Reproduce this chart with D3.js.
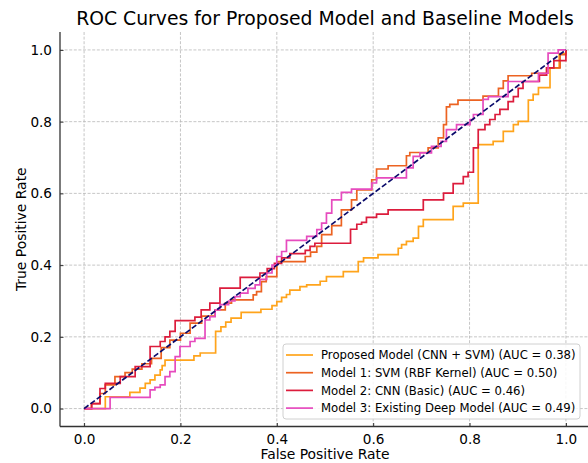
<!DOCTYPE html>
<html><head><meta charset="utf-8">
<script src="https://cdn.jsdelivr.net/npm/d3@7"></script>
<style>
body{margin:0;background:#fff}
svg{display:block}
text{font-family:"DejaVu Sans",sans-serif;fill:#000}
</style>
</head><body>
<svg id="chart" width="588" height="463"></svg>
<script>
// ---- data ----
const chartTitle = "ROC Curves for Proposed Model and Baseline Models";
const xLabel = "False Positive Rate";
const yLabel = "True Positive Rate";
const tickValues = [0, 0.2, 0.4, 0.6, 0.8, 1.0];
const seriesNames = [
  "Proposed Model (CNN + SVM)",
  "Model 1: SVM (RBF Kernel)",
  "Model 2: CNN (Basic)",
  "Model 3: Existing Deep Model"
];
const aucValues = [0.38, 0.50, 0.46, 0.49];

const proposedFpr = [0,0.044,0.095,0.116,0.127,0.137,0.147,0.158,0.162,0.168,0.228,0.241,0.273,0.284,0.294,0.305,0.326,0.367,0.39,0.4,0.41,0.42,0.427,0.448,0.462,0.49,0.503,0.538,0.569,0.58,0.61,0.652,0.659,0.669,0.683,0.694,0.704,0.766,0.787,0.818,0.849,0.87,0.891,0.901,0.922,0.932,0.943,0.967,0.986,1.0];
const proposedTpr = [0,0.033,0.045,0.057,0.07,0.08,0.093,0.108,0.12,0.135,0.147,0.155,0.215,0.228,0.241,0.252,0.268,0.277,0.287,0.298,0.31,0.318,0.33,0.34,0.345,0.355,0.368,0.382,0.41,0.42,0.429,0.447,0.457,0.466,0.475,0.508,0.527,0.564,0.573,0.736,0.745,0.773,0.792,0.801,0.86,0.876,0.895,0.95,0.99,1.0];

const svmFpr = [0,0.015,0.033,0.044,0.064,0.085,0.1,0.12,0.14,0.16,0.178,0.2,0.22,0.244,0.272,0.293,0.306,0.351,0.358,0.368,0.378,0.4,0.459,0.47,0.483,0.493,0.514,0.534,0.555,0.566,0.597,0.607,0.631,0.669,0.676,0.714,0.735,0.746,0.752,0.759,0.776,0.828,0.86,0.87,0.88,0.929,0.96,0.988,1.0];
const svmTpr = [0,0.014,0.042,0.066,0.089,0.1,0.11,0.125,0.14,0.17,0.191,0.21,0.238,0.258,0.275,0.294,0.303,0.317,0.326,0.354,0.368,0.41,0.424,0.436,0.452,0.485,0.51,0.554,0.582,0.61,0.638,0.668,0.677,0.705,0.714,0.727,0.755,0.792,0.841,0.848,0.86,0.871,0.893,0.914,0.928,0.935,0.95,0.987,1.0];

const cnnFpr = [0,0.016,0.033,0.044,0.075,0.106,0.137,0.158,0.168,0.178,0.189,0.23,0.243,0.261,0.282,0.324,0.365,0.38,0.395,0.41,0.427,0.459,0.469,0.479,0.553,0.566,0.576,0.586,0.607,0.631,0.704,0.746,0.766,0.787,0.797,0.808,0.818,0.832,0.842,0.853,0.863,0.88,0.891,0.901,0.911,0.945,0.96,0.975,1.0];
const cnnTpr = [0,0.014,0.056,0.07,0.089,0.117,0.173,0.187,0.2,0.215,0.245,0.255,0.275,0.294,0.336,0.366,0.378,0.39,0.405,0.42,0.432,0.441,0.452,0.461,0.5,0.514,0.519,0.533,0.542,0.554,0.582,0.601,0.627,0.647,0.659,0.727,0.778,0.792,0.806,0.82,0.834,0.856,0.87,0.893,0.912,0.93,0.95,0.97,1.0];

const deepFpr = [0,0.054,0.137,0.147,0.158,0.168,0.178,0.189,0.199,0.22,0.23,0.251,0.261,0.272,0.282,0.3,0.313,0.324,0.34,0.355,0.365,0.379,0.39,0.4,0.41,0.42,0.462,0.483,0.493,0.503,0.514,0.534,0.555,0.597,0.607,0.669,0.683,0.697,0.721,0.741,0.752,0.773,0.801,0.808,0.828,0.839,0.88,0.943,0.963,0.984,1.0];
const deepTpr = [0,0.031,0.052,0.059,0.066,0.089,0.103,0.145,0.173,0.187,0.196,0.247,0.256,0.275,0.29,0.3,0.312,0.322,0.335,0.345,0.36,0.378,0.4,0.424,0.438,0.469,0.48,0.499,0.517,0.545,0.582,0.603,0.612,0.629,0.643,0.671,0.703,0.713,0.731,0.745,0.778,0.792,0.806,0.82,0.862,0.87,0.912,0.935,0.991,1.0,1.0];

const colors = ["#FFA41B", "#EC6322", "#DC1C3C", "#E64BBE"];
const diagColor = "#0B0B6B";

// ---- layout ----
const svg = d3.select("#chart");
const plotLeft = 60, plotRight = 590, plotTop = 32, plotBottom = 426.5;
const x = d3.scaleLinear().domain([-0.05, 1.05]).range([plotLeft, plotRight]);
const y = d3.scaleLinear().domain([-0.05, 1.05]).range([plotBottom, plotTop]);

// grid
const grid = svg.append("g");
grid.selectAll(".gx").data(tickValues).join("line")
  .attr("x1", d => x(d)).attr("x2", d => x(d)).attr("y1", plotTop).attr("y2", plotBottom)
  .attr("stroke", "#b8b8b8").attr("stroke-width", 0.8).attr("stroke-dasharray", "3,1.6");
grid.selectAll(".gy").data(tickValues).join("line")
  .attr("y1", d => y(d)).attr("y2", d => y(d)).attr("x1", plotLeft).attr("x2", plotRight)
  .attr("stroke", "#b8b8b8").attr("stroke-width", 0.8).attr("stroke-dasharray", "3,1.6");

// curves
const series = [
  {fpr: proposedFpr, tpr: proposedTpr},
  {fpr: svmFpr, tpr: svmTpr},
  {fpr: cnnFpr, tpr: cnnTpr},
  {fpr: deepFpr, tpr: deepTpr}
];
const line = d3.line().x(d => x(d[0])).y(d => y(d[1])).curve(d3.curveStepAfter);
series.forEach((s, i) => {
  const pts = s.fpr.map((f, j) => [f, s.tpr[j]]);
  svg.append("path").attr("d", line(pts)).attr("fill", "none")
    .attr("stroke", colors[i]).attr("stroke-width", 1.7).attr("stroke-linejoin", "miter");
});
// diagonal
svg.append("path").attr("d", d3.line().x(d => x(d)).y(d => y(d))([0, 1]))
  .attr("stroke", diagColor).attr("stroke-width", 1.7).attr("stroke-dasharray", "5.5,2.4").attr("fill", "none");

// axes
const xAxis = d3.axisBottom(x).tickValues(tickValues).tickFormat(d3.format(".1f")).tickSizeInner(-3.5).tickSizeOuter(0).tickPadding(8);
const yAxis = d3.axisLeft(y).tickValues(tickValues).tickFormat(d3.format(".1f")).tickSizeInner(-3.5).tickSizeOuter(0).tickPadding(8);
const gx = svg.append("g").attr("transform", `translate(0,${plotBottom})`).call(xAxis);
const gy = svg.append("g").attr("transform", `translate(${plotLeft},0)`).call(yAxis);
[gx, gy].forEach(g => {
  g.select(".domain").attr("stroke", "#333").attr("stroke-width", 1.3);
  g.selectAll(".tick line").attr("stroke", "#333").attr("stroke-width", 1);
  g.selectAll(".tick text").attr("font-family", "DejaVu Sans").attr("font-size", 13.6).attr("fill", "#111");
});
gx.select(".domain").attr("d", `M${plotLeft},0H${plotRight}`);
gy.select(".domain").attr("d", `M0,${plotTop}V${plotBottom}`);

// labels
svg.append("text").attr("x", (plotLeft + plotRight) / 2).attr("y", 459).attr("text-anchor", "middle")
  .attr("font-size", 13.9).text(xLabel);
svg.append("text").attr("transform", `translate(26,${(plotTop + plotBottom) / 2}) rotate(-90)`).attr("text-anchor", "middle")
  .attr("font-size", 13.9).text(yLabel);
svg.append("text").attr("x", (plotLeft + plotRight) / 2).attr("y", 25).attr("text-anchor", "middle")
  .attr("font-size", 18.8).text(chartTitle);

// legend
const lg = svg.append("g");
lg.append("rect").attr("x", 283).attr("y", 344).attr("width", 297).attr("height", 75).attr("rx", 3)
  .attr("fill", "#fff").attr("fill-opacity", 0.85).attr("stroke", "#d0d0d0").attr("stroke-width", 1);
seriesNames.forEach((n, i) => {
  const yy = 355 + i * 17.7;
  lg.append("line").attr("x1", 286).attr("x2", 313).attr("y1", yy).attr("y2", yy)
    .attr("stroke", colors[i]).attr("stroke-width", 1.7);
  lg.append("text").attr("x", 321).attr("y", yy + 4.2).attr("font-size", 11.7)
    .text(`${n} (AUC = ${aucValues[i].toFixed(2)})`);
});
</script>
</body></html>
